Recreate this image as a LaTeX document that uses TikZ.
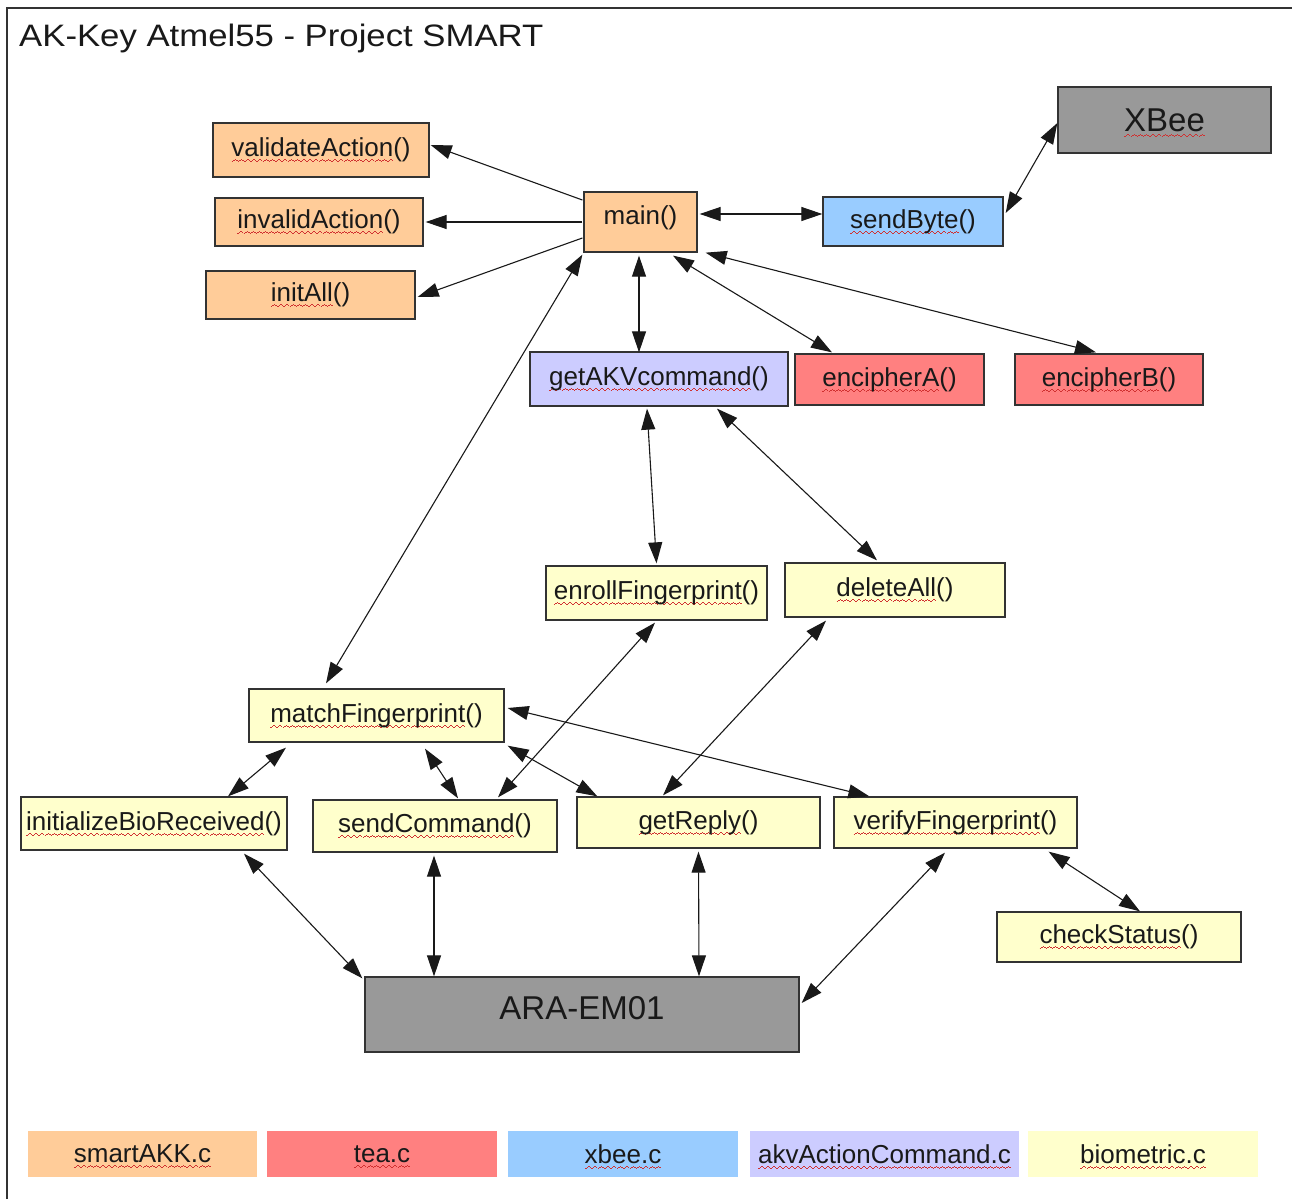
\documentclass[tikz,border=0pt]{standalone}
\usepackage{fontspec}
\setmainfont{Liberation Sans}
\usepackage{graphicx}
\usetikzlibrary{arrows.meta}
\definecolor{cOr}{HTML}{FFCC99}
\definecolor{cRe}{HTML}{FF8080}
\definecolor{cBl}{HTML}{99CCFF}
\definecolor{cLa}{HTML}{CCCCFF}
\definecolor{cYe}{HTML}{FFFFCC}
\definecolor{cGr}{HTML}{999999}
\definecolor{sqred}{HTML}{D03030}
\newcommand\wv{\hbox{\rule[-5.6pt]{1.5pt}{1pt}\rule[-4.6pt]{1.5pt}{1pt}\rule[-3.6pt]{1.5pt}{1pt}\rule[-4.6pt]{1.5pt}{1pt}}}
\newcommand\sq[1]{\setbox0\hbox{#1}\rlap{\raisebox{0pt}[0pt][0pt]{\hbox to\wd0{\color{sqred}\xleaders\wv\hfill}}}\box0}
\begin{document}
\begin{tikzpicture}[x=1pt,y=-1pt,
  box/.style={draw=black!80, line width=1.3pt, inner sep=0pt, font=\fontsize{26}{30}\selectfont, text=black!90},
  big/.style={box, font=\fontsize{33}{38}\selectfont},
  leg/.style={inner sep=0pt, font=\fontsize{26}{30}\selectfont, text=black!90},
  sz/.style 2 args={minimum width=#1pt, minimum height=#2pt},
  one/.style={line width=1.1pt, draw=black!90, -{Triangle[length=21pt,width=14pt]}},
  two/.style={line width=1.1pt, draw=black!90, {Triangle[length=21pt,width=14pt]}-{Triangle[length=21pt,width=14pt]}}
]
\useasboundingbox (0,0) rectangle (1292,1199);
\fill[white] (0,0) rectangle (1292,1199);
\draw[line width=2pt, black!80] (7,1199) -- (7,8) -- (1292,8);

\node[anchor=base west, inner sep=0pt, font=\fontsize{31}{36}\selectfont, text=black!90] (title) at (19,47) {\scalebox{1.12}[1]{AK-Key Atmel55 - Project SMART}};

% smartAKK.c
\node[box, fill=cOr, sz={216}{54}] (va) at (321,150) {\sq{validateAction}()};
\node[box, fill=cOr, sz={208}{48}] (ia) at (319,222) {\sq{invalidAction}()};
\node[box, fill=cOr, sz={209}{48}] (ini) at (310.5,295) {\sq{initAll}()};
\node[box, fill=cOr, sz={113}{60}, text height=19pt, text depth=15pt] (main) at (640.5,222) {main()};
% xbee
\node[box, fill=cBl, sz={180}{49}] (sb) at (913,221.5) {\sq{sendByte}()};
\node[big, fill=cGr, sz={213}{66}] (xbee) at (1164.5,120) {\sq{XBee}};
% akv
\node[box, fill=cLa, sz={258}{54}] (akv) at (659,379) {\sq{getAKVcommand}()};
% tea
\node[box, fill=cRe, sz={189}{51}] (encA) at (889.5,379.5) {\sq{encipherA}()};
\node[box, fill=cRe, sz={188}{51}] (encB) at (1109,379.5) {\sq{encipherB}()};
% biometric
\node[box, fill=cYe, sz={221}{54}] (enroll) at (656.5,593) {\sq{enrollFingerprint}()};
\node[box, fill=cYe, sz={220}{54}] (del) at (895,590) {\sq{deleteAll}()};
\node[box, fill=cYe, sz={255}{53}] (match) at (376.5,715.5) {\sq{matchFingerprint}()};
\node[box, fill=cYe, sz={266}{53}] (ibr) at (154,823.5) {\sq{initializeBioReceived}()};
\node[box, fill=cYe, sz={244}{52}] (sc) at (435,826) {\sq{sendCommand}()};
\node[box, fill=cYe, sz={243}{51}] (gr) at (698.5,822.5) {\sq{getReply}()};
\node[box, fill=cYe, sz={243}{51}] (vf) at (955.5,822.5) {\sq{verifyFingerprint}()};
\node[box, fill=cYe, sz={244}{50}] (cs) at (1119,937) {\sq{checkStatus}()};
\node[big, fill=cGr, sz={434}{75}, text height=23.6pt, text depth=14pt] (ara) at (582,1014.5) {ARA-EM01};

% legend
\node[leg, fill=cOr, sz={229}{46}] (l1) at (142.5,1154) {\sq{smartAKK.c}};
\node[leg, fill=cRe, sz={230}{46}] (l2) at (382,1154) {\sq{tea.c}};
\node[leg, fill=cBl, sz={230}{46}] (l3) at (623,1154) {\sq{xbee.c}};
\node[leg, fill=cLa, sz={269}{46}] (l4) at (884.5,1154) {\sq{akvActionCommand.c}};
\node[leg, fill=cYe, sz={230}{46}] (l5) at (1143,1154) {\sq{biometric.c}};

% connectors
\draw[one] ([xshift=-1pt,yshift=22pt]main.west) -- ([xshift=1pt,yshift=5pt]va.east);
\draw[one] ([xshift=-1pt]main.west) -- ([xshift=2pt]ia.east);
\draw[one] ([xshift=-1pt,yshift=-16pt]main.west) -- ([xshift=2pt,yshift=-2pt]ini.east);
\draw[two] ([xshift=2pt,yshift=8pt]main.east) -- ([yshift=7.5pt]sb.west);
\draw[two] ([xshift=2pt,yshift=8.5pt]sb.east) -- ([yshift=-3pt]xbee.west);
\draw[two] ([xshift=-1.5pt,yshift=-3pt]main.south) -- ([xshift=-20pt,yshift=-1pt]akv.north);
\draw[two] ([xshift=32.5pt,yshift=-3pt]main.south) -- ([xshift=-57.5pt,yshift=1pt]encA.north);
\draw[two] ([xshift=8pt]main.south east) -- ([xshift=-13pt,yshift=1pt]encB.north);
\draw[two] ([xshift=-1pt,yshift=-2pt]main.south west) -- ([xshift=-50.5pt,yshift=5pt]match.north);
\draw[two] ([xshift=-12pt,yshift=-2pt]akv.south) -- ([yshift=2pt]enroll.north);
\draw[two] ([xshift=58pt,yshift=-2pt]akv.south) -- ([xshift=-18pt,yshift=2pt]del.north);
\draw[two] ([xshift=-1.5pt,yshift=-2pt]enroll.south) -- ([xshift=63pt,yshift=2pt]sc.north);
\draw[two] ([xshift=-69pt,yshift=-3pt]del.south) -- ([xshift=-35.5pt,yshift=1pt]gr.north);
\draw[two] ([xshift=-90.5pt,yshift=-5pt]match.south) -- ([xshift=74pt]ibr.north);
\draw[two] ([xshift=48.5pt,yshift=-6pt]match.south) -- ([xshift=23pt,yshift=1pt]sc.north);
\draw[two] ([xshift=3pt,yshift=-3pt]match.south east) -- ([xshift=21pt]gr.north west);
\draw[two] ([xshift=3pt,yshift=7.5pt]match.east) -- ([xshift=36pt]vf.north west);
\draw[two] ([xshift=90pt,yshift=-3pt]ibr.south) -- ([xshift=-2pt,yshift=-2pt]ara.north west);
\draw[two] ([xshift=-1pt,yshift=-3pt]sc.south) -- ([xshift=-148pt]ara.north);
\draw[two] ([yshift=-3pt]gr.south) -- ([xshift=117pt]ara.north);
\draw[two] ([xshift=-10.5pt,yshift=-4pt]vf.south) -- ([xshift=2pt,yshift=11.5pt]ara.east);
\draw[two] ([xshift=-29pt,yshift=-3pt]vf.south east) -- ([xshift=21pt]cs.north);
\end{tikzpicture}
\end{document}
